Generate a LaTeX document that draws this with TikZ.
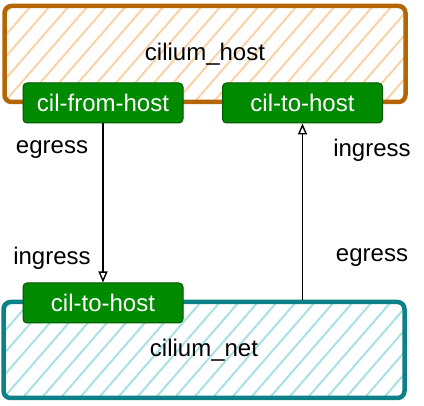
\documentclass[tikz,border=0pt]{standalone}
\usepackage{fontspec}
\setmainfont{Liberation Sans}
\usetikzlibrary{arrows.meta}
\definecolor{hostline}{HTML}{B46504}
\definecolor{hostfill}{HTML}{F8D3A8}
\definecolor{netline}{HTML}{0E8088}
\definecolor{netfill}{HTML}{A8E0E4}
\definecolor{progfill}{HTML}{008A00}
\definecolor{progline}{HTML}{005700}
\tikzset{
	hatch/.style={path picture={\foreach \i in {-6,...,22} \draw[#1, line width=2pt] ([xshift=\i*19pt]path picture bounding box.south west) -- ++(100pt,115pt);}},
	dev/.style={draw=#1line, line width=4.5pt, rounded corners=7pt, minimum width=401pt, minimum height=96pt, inner sep=0pt, hatch=#1fill},
	prog/.style={draw=progline, fill=progfill, text=white, line width=1pt, rounded corners=4pt, minimum width=160pt, minimum height=40pt, inner sep=0pt},
	lbl/.style={inner sep=0pt},
	flow/.style={line width=1.4pt, -{Triangle[open, length=11pt, width=9pt]}}
}
\begin{document}
\begin{tikzpicture}[x=1pt, y=-1pt, font=\fontsize{24}{28}\selectfont]
	\useasboundingbox (0,0) rectangle (424,406);

	% the two devices
	\node[dev=host] (host) at (205,54) {cilium\_host};
	\node[dev=net] (net) at (204,350) {cilium\_net};

	% bpf programs
	\node[prog] (fromhost) at (103,103) {cil-from-host};
	\node[prog] (tohost) at (302.5,103) {cil-to-host};
	\node[prog] (nettohost) at (103,303) {cil-to-host};

	\node[lbl] (egl) at (52,150) {egress};
	\node[lbl] (ingl) at (52,258) {ingress};
	\node[lbl] (ingr) at (372,150) {ingress};
	\node[lbl] (egr) at (372,258) {egress};

	\coordinate (netout) at (tohost.south |- net.north);
	\draw[flow] (fromhost.south) -- (nettohost.north);
	\draw[flow] (netout) -- (tohost.south);
\end{tikzpicture}
\end{document}
